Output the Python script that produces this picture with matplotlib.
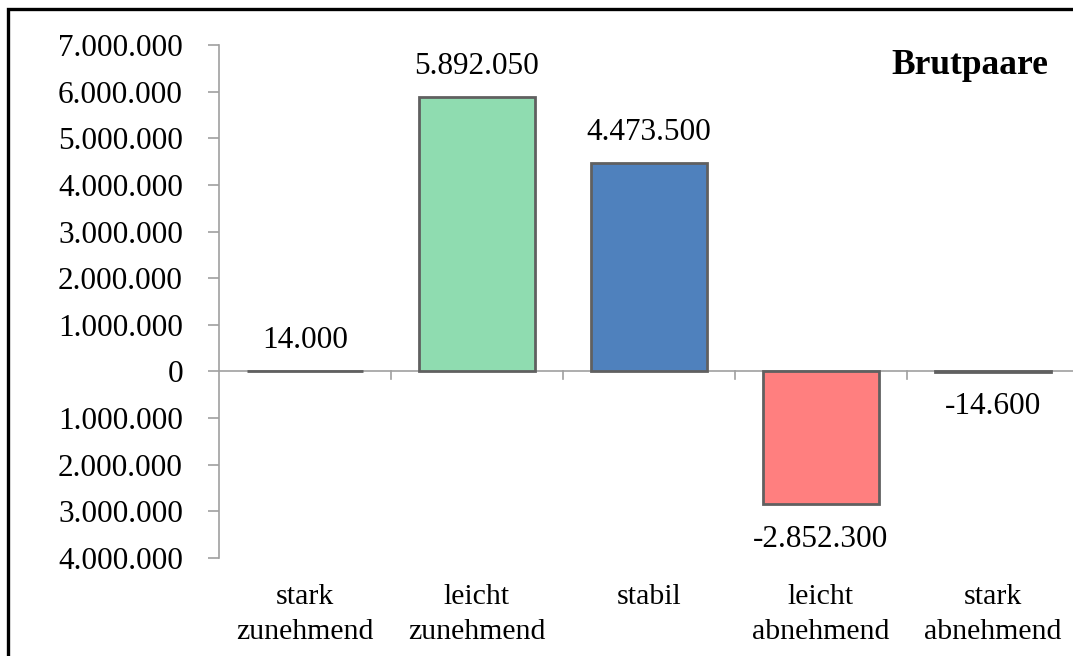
import matplotlib.pyplot as plt
from matplotlib.patches import Rectangle
from matplotlib.ticker import FuncFormatter, FixedLocator
from matplotlib.transforms import blended_transform_factory

kategorien = ['stark\nzunehmend', 'leicht\nzunehmend', 'stabil', 'leicht\nabnehmend', 'stark\nabnehmend']
werte = [14000, 5892050, 4473500, -2852300, -14600]
farben = ['#8fdcb0', '#8fdcb0', '#4f81bd', '#ff7f7f', '#ff7f7f']
y_ticks = [7000000, 6000000, 5000000, 4000000, 3000000, 2000000, 1000000, 0,
           -1000000, -2000000, -3000000, -4000000]

def punkt(v, vorzeichen=True):
    s = f'{abs(int(v)):,}'.replace(',', '.')
    if vorzeichen and v < 0:
        s = '-' + s
    return s

plt.rcParams['font.family'] = ['Liberation Serif', 'DejaVu Serif']

fig = plt.figure(figsize=(10.73, 6.56), dpi=100)
W, H = 1073, 656
ax = fig.add_axes([219 / W, (656 - 558) / H, 860 / W, (558 - 45) / H])

x = list(range(len(werte)))
ax.bar(x, werte, width=0.675, color=farben, edgecolor='#606060', linewidth=2, zorder=3)

ax.set_xlim(-0.5, 4.5)
ax.set_ylim(-4000000, 7000000)

grau = '#a0a0a0'
for s in ['top', 'right', 'bottom']:
    ax.spines[s].set_visible(False)
ax.spines['left'].set_color(grau)
ax.spines['left'].set_linewidth(1.2)
ax.axhline(0, color=grau, linewidth=1.2, zorder=2)

ax.yaxis.set_major_locator(FixedLocator(y_ticks))
ax.yaxis.set_major_formatter(FuncFormatter(lambda v, p: punkt(v, False)))
ax.tick_params(axis='y', length=8, width=1.2, color=grau, pad=18, labelsize=22.5)

# Trennstriche zwischen den Kategorien auf der Nulllinie
ax.set_xticks([])
for b in [0.5, 1.5, 2.5, 3.5]:
    ax.plot([b, b], [0, -170000], color=grau, linewidth=1.2, clip_on=False)

tx = blended_transform_factory(ax.transData, ax.transAxes)
for i, k in enumerate(kategorien):
    ax.text(i, -0.05, k, transform=tx, ha='center', va='top', fontsize=21.5, linespacing=1.45)

for i, v in enumerate(werte):
    if v >= 0:
        ax.annotate(punkt(v), (i, v), xytext=(0, 22), textcoords='offset points',
                    ha='center', va='center', fontsize=22.5)
    else:
        ax.annotate(punkt(v), (i, v), xytext=(0, -25), textcoords='offset points',
                    ha='center', va='center', fontsize=22.5)

fig.text(1048 / W, (656 - 66) / H, 'Brutpaare', ha='right', va='center',
         fontsize=25.5, fontweight='bold')

fig.patches.append(Rectangle((8 / W, -0.2), 1.5, 0.2 + (656 - 9) / H, transform=fig.transFigure,
                             fill=False, edgecolor='black', linewidth=2.4))

fig.savefig('out.png', dpi=100)
